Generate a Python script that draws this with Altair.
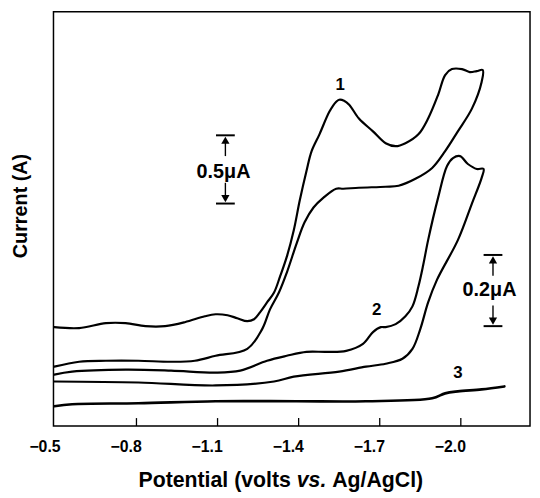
import altair as alt
import pandas as pd

FONT = "Liberation Sans"

# ---- data (potential in V, current in arbitrary units) ----
c1_potential = [-0.496, -0.588, -0.687, -0.760, -0.833, -0.906, -0.979, -1.053, -1.093, -1.137,
                -1.173, -1.210, -1.235, -1.257, -1.283, -1.309, -1.331, -1.356, -1.382, -1.404,
                -1.429, -1.448, -1.477, -1.514, -1.539, -1.550, -1.568, -1.587, -1.623, -1.675,
                -1.722, -1.759, -1.795, -1.843, -1.879, -1.916, -1.942, -1.967, -2.004, -2.033,
                -2.059, -2.081,
                -2.077, -2.041, -1.989, -1.942, -1.894, -1.832, -1.770, -1.722, -1.623, -1.565,
                -1.539, -1.492, -1.455, -1.422, -1.393, -1.356, -1.327, -1.294, -1.265, -1.210,
                -1.093, -1.016, -0.928, -0.807, -0.687, -0.588, -0.496]
c1_current = [100, 99, 104, 104, 101, 101, 105, 111, 113, 112,
              109, 106, 108, 115, 125, 135, 151, 171, 198, 228,
              258, 278, 295, 318, 328, 330, 329, 325, 311, 298,
              286, 283, 286, 295, 311, 335, 355, 361, 361, 358,
              359, 360,
              348, 321, 298, 278, 261, 250, 243, 242, 241, 240,
              240, 231, 221, 206, 185, 155, 135, 118, 98, 78,
              71, 66, 65, 66, 66, 65, 60]

c2_potential = [-0.496, -0.562, -0.760, -0.928, -1.093, -1.184, -1.283, -1.356, -1.429, -1.503,
                -1.576, -1.638, -1.675, -1.704, -1.722, -1.759, -1.795, -1.821, -1.843, -1.861,
                -1.879, -1.916, -1.949, -1.971, -1.997, -2.026, -2.059, -2.084,
                -2.077, -2.041, -1.989, -1.912, -1.879, -1.850, -1.821, -1.784, -1.722, -1.649,
                -1.550, -1.382, -1.309, -1.093, -0.807, -0.496]
c2_current = [52, 55, 57, 56, 54, 56, 66, 71, 75, 75,
              76, 83, 95, 100, 100, 103, 111, 121, 141, 163,
              188, 231, 263, 271, 273, 265, 260, 260,
              251, 225, 188, 148, 125, 98, 78, 68, 63, 60,
              55, 50, 45, 41, 44, 45]

c3_potential = [-0.496, -0.562, -0.807, -1.093, -1.393, -1.649, -1.894, -1.942, -1.989, -2.077, -2.161]
c3_current = [20, 22, 23, 25, 25, 25, 28, 33, 35, 37, 40]

tick_values = [-0.5, -0.8, -1.1, -1.4, -1.7, -2.0]
inner_ticks = [-0.8, -1.1, -1.4, -1.7, -2.0]

curve_labels = ["1", "2", "3"]
curve_label_potential = [-1.554, -1.689, -1.989]
curve_label_current = [345, 117, 54]

bar_labels = ["0.5\u03bcA", "0.2\u03bcA"]
bar_potential = [-1.129, -2.119]
bar_top = [294, 173]
bar_bottom = [225, 101]
bar_label_potential = [-1.122, -2.106]
bar_label_current = [257, 137]

xtitle_parts = ["Potential (volts", "vs.", "Ag/AgCl)"]

# ---- tables ----
rows = []
for name, pot, cur in (("1", c1_potential, c1_current),
                       ("2", c2_potential, c2_current),
                       ("3", c3_potential, c3_current)):
    for i, (p, c) in enumerate(zip(pot, cur)):
        rows.append({"curve": name, "order": i, "potential": p, "current": c})
curves = pd.DataFrame(rows)

ticks_df = pd.DataFrame({"potential": inner_ticks})
labels_df = pd.DataFrame({"label": curve_labels, "potential": curve_label_potential,
                          "current": curve_label_current})
bars_df = pd.DataFrame({"label": bar_labels, "potential": bar_potential,
                        "top": bar_top, "bottom": bar_bottom})
bar_text_df = pd.DataFrame({"label": bar_labels, "potential": bar_label_potential,
                            "current": bar_label_current})

PLOT_W, PLOT_H = 482, 419

xscale = alt.Scale(domain=[-2.256, -0.493], reverse=True, nice=False, zero=False)
yscale = alt.Scale(domain=[0, 419], nice=False, zero=False)

xaxis = alt.Axis(values=tick_values, format=".1f", labelFont=FONT, labelFontSize=16,
                 labelFontWeight="bold", labelColor="black", labelPadding=13, labelOffset=-11,
                 labelFlush=False, ticks=False, domain=False, grid=False)
yaxis = alt.Axis(title="Current (A)", labels=False, ticks=False, domain=False, grid=False,
                 titleFont=FONT, titleFontSize=20, titleFontWeight="bold", titleColor="black",
                 titleAngle=270, titleX=-33, titleY=196, titleAlign="center",
                 titleBaseline="middle")


def X(field="potential"):
    return alt.X(f"{field}:Q", scale=xscale, axis=xaxis, title=None)


def Y(field="current"):
    return alt.Y(f"{field}:Q", scale=yscale, axis=yaxis)


lines = alt.Chart(curves).mark_line(color="black", strokeJoin="round", strokeCap="round",
                                    interpolate="catmull-rom").encode(
    x=X(), y=Y(), detail="curve:N", order="order:Q",
    strokeWidth=alt.condition(alt.datum.curve == "3", alt.value(2.7), alt.value(2.2)),
)

tick_rules = alt.Chart(ticks_df).mark_rule(color="black", strokeWidth=1.3).encode(
    x=X(), y=alt.value(PLOT_H), y2=alt.value(PLOT_H - 8)
)

curve_text = alt.Chart(labels_df).mark_text(
    font=FONT, fontSize=17, fontWeight="bold", color="black", baseline="middle", align="center"
).encode(x=X(), y=Y(), text="label:N")

bar_top_tick = alt.Chart(bars_df).mark_tick(orient="horizontal", size=19, thickness=2,
                                            color="black", opacity=1).encode(x=X(), y=Y("top"))
bar_bot_tick = alt.Chart(bars_df).mark_tick(orient="horizontal", size=19, thickness=2,
                                            color="black", opacity=1).encode(x=X(), y=Y("bottom"))
shaft_up = alt.Chart(bars_df).mark_rule(color="black", strokeWidth=1.4, yOffset=7, y2Offset=21).encode(
    x=X(), y=Y("top"), y2="top:Q")
shaft_down = alt.Chart(bars_df).mark_rule(color="black", strokeWidth=1.4, yOffset=-7, y2Offset=-21).encode(
    x=X(), y=Y("bottom"), y2="bottom:Q")
tri_up = alt.Chart(bars_df).mark_point(shape="triangle-up", size=70, filled=True, color="black",
                                       opacity=1, yOffset=5).encode(x=X(), y=Y("top"))
tri_down = alt.Chart(bars_df).mark_point(shape="triangle-down", size=70, filled=True, color="black",
                                         opacity=1, yOffset=-5).encode(x=X(), y=Y("bottom"))
bar_text = alt.Chart(bar_text_df).mark_text(
    font=FONT, fontSize=20, fontWeight="bold", color="black", baseline="middle", align="center"
).encode(x=X(), y=Y(), text="label:N")

TS = 21.5
x0 = 86
title_layers = []
offsets = [0, 7.446 * TS, 9.114 * TS]
styles = ["normal", "italic", "normal"]
for part, off, st in zip(xtitle_parts, offsets, styles):
    title_layers.append(
        alt.Chart(pd.DataFrame({"t": [part]})).mark_text(
            font=FONT, fontSize=TS, fontWeight="bold", fontStyle=st, color="black",
            align="left", baseline="middle"
        ).encode(x=alt.value(x0 + off), y=alt.value(475), text="t:N")
    )

chart = alt.layer(
    lines, tick_rules, curve_text, bar_top_tick, bar_bot_tick, shaft_up, shaft_down,
    tri_up, tri_down, bar_text, *title_layers
).properties(
    width=PLOT_W, height=PLOT_H,
    autosize=alt.AutoSizeParams(type="none"),
    padding={"left": 46, "top": 1, "right": 2, "bottom": 66},
    background="white",
).configure_view(stroke="black", strokeWidth=1.5)

chart.save("out.html", embed_options={"renderer": "svg", "actions": False})
